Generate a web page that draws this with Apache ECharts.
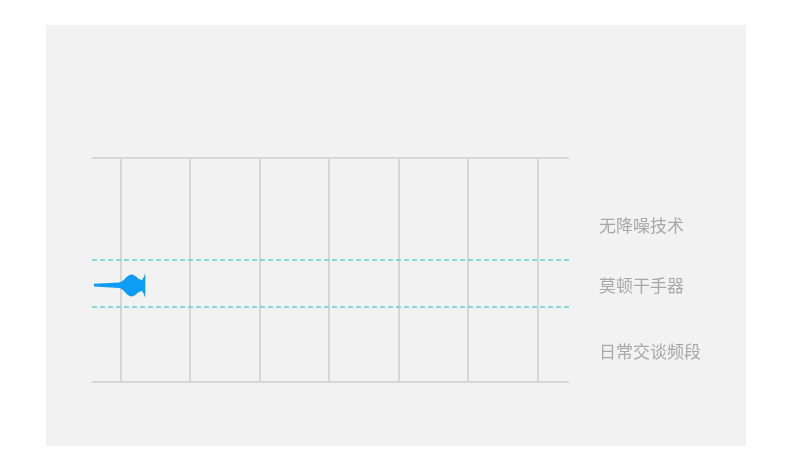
<!DOCTYPE html>
<html>
<head>
<meta charset="utf-8">
<script src="https://cdn.jsdelivr.net/npm/echarts@6/dist/echarts.min.js"></script>
<style>
  html, body { margin: 0; padding: 0; background: #ffffff; }
  #chart { width: 790px; height: 468px; }
</style>
</head>
<body>
<div id="chart"></div>
<script>
// ---- data ----
var categoryLabels = ['无降噪技术', '莫顿干手器', '日常交谈频段'];
var labelLevels = [69.9, 42.8, 13.7];          // vertical position of each label (0-100 scale)
var thresholdLevels = [54.5, 33.5];            // dashed reference lines (0-100 scale)
var gridTicks = [0, 1, 2, 3, 4, 5, 6];         // vertical grid lines
var dryerCategory = ['莫顿干手器'];
var dryerValue = [10.8];                       // length of the sound-wave mark (0-100 scale)

var wavePath = 'path://M0,10.2 L24,9 C29,8.5 31,1.5 36,1 C40,1 42,6 46,6.5 C47.5,6 48.5,2 49.5,0 L49.5,24 C48.5,22 47.5,18 46,17.5 C42,18 40,23 36,23 C31,22.5 29,15 24,14.5 L0,13 Z';

var chart = echarts.init(document.getElementById('chart'));
var lineColor = '#d6d6d6';
var hidden = { show: false };

chart.setOption({
  backgroundColor: '#ffffff',
  animation: false,
  textStyle: { fontFamily: 'Noto Sans CJK SC' },
  graphic: {
    elements: [{
      type: 'rect', z: -100, silent: true,
      shape: { x: 46, y: 25, width: 700, height: 421 },
      style: { fill: '#f2f2f2' }
    }]
  },
  grid: [
    { left: 92, right: 221, top: 157.5, bottom: 86 },
    { left: 94, right: 221, top: 274, height: 23 }
  ],
  xAxis: [
    { gridIndex: 0, type: 'value', min: -0.413, max: 6.455,
      axisLine: hidden, axisTick: hidden, axisLabel: hidden, splitLine: hidden },
    { gridIndex: 1, type: 'value', min: 0, max: 100,
      axisLine: hidden, axisTick: hidden, axisLabel: hidden, splitLine: hidden }
  ],
  yAxis: [
    { gridIndex: 0, type: 'value', min: 0, max: 100, interval: 100,
      axisLine: hidden, axisTick: hidden, axisLabel: hidden,
      splitLine: { show: true, lineStyle: { color: lineColor, width: 2 } } },
    { gridIndex: 1, type: 'category', data: dryerCategory,
      axisLine: hidden, axisTick: hidden, axisLabel: hidden, splitLine: hidden }
  ],
  series: [
    {
      type: 'scatter',
      xAxisIndex: 0, yAxisIndex: 0,
      symbolSize: 0,
      silent: true,
      data: categoryLabels.map(function (name, i) {
        return { name: name, value: [6.455, labelLevels[i]] };
      }),
      label: {
        show: true, position: 'right', distance: 30,
        formatter: '{b}', color: '#959595', fontSize: 17,
        fontFamily: 'Noto Sans CJK SC'
      },
      markLine: {
        silent: true, symbol: 'none', label: hidden,
        lineStyle: { color: lineColor, width: 2, type: 'solid' },
        data: gridTicks.map(function (v) { return { xAxis: v }; })
      },
      z: 1
    },
    {
      type: 'line',
      xAxisIndex: 0, yAxisIndex: 0,
      data: [],
      itemStyle: { color: '#6fcbcd' },
      markLine: {
        silent: true, symbol: 'none', label: hidden,
        lineStyle: { color: '#6fcbcd', width: 1.5, type: [5, 3], opacity: 1 },
        data: thresholdLevels.map(function (v) { return { yAxis: v }; })
      },
      z: 2
    },
    {
      type: 'pictorialBar',
      xAxisIndex: 1, yAxisIndex: 1,
      barCategoryGap: 0,
      symbol: wavePath,
      symbolSize: ['100%', 24],
      symbolPosition: 'start',
      itemStyle: { color: '#0e9cf4' },
      data: dryerValue,
      z: 5
    }
  ]
});
</script>
</body>
</html>
